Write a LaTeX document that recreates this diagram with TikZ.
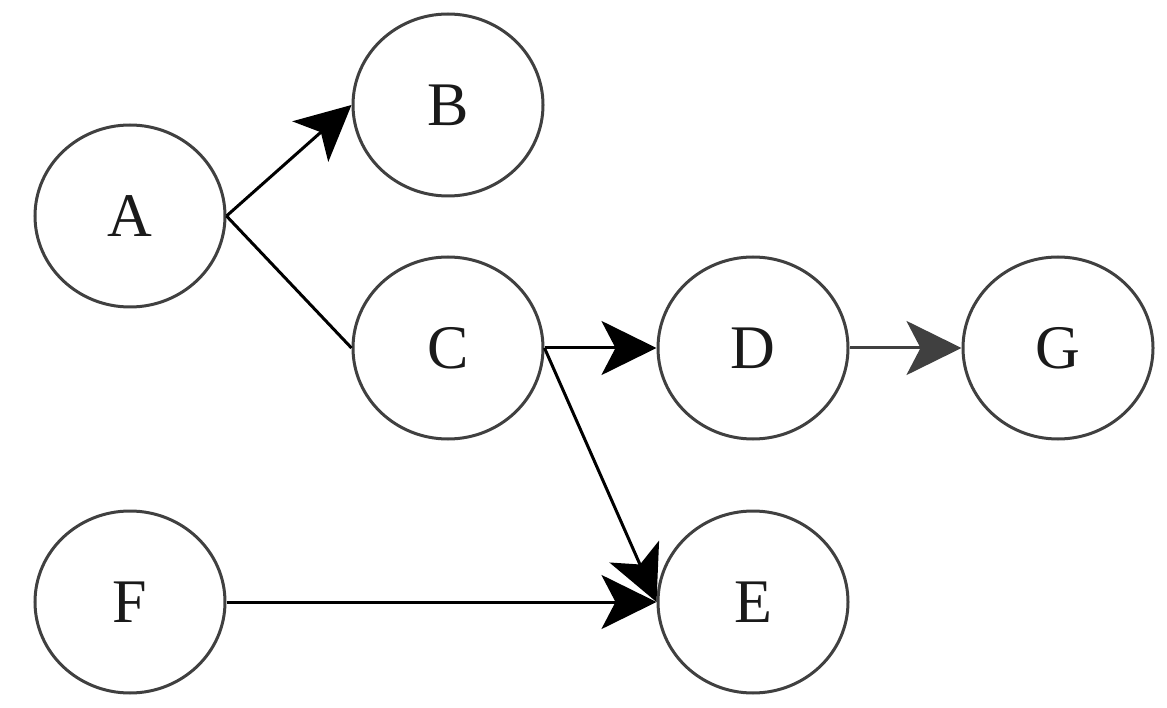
\documentclass[tikz,border=0pt]{standalone}
\usepackage{fontspec}
\setmainfont{Liberation Serif}
\usetikzlibrary{arrows.meta,shapes.geometric}
\definecolor{ringgray}{HTML}{404040}
\definecolor{textblk}{HTML}{1A1A1A}
\tikzset{
  vtx/.style={ellipse, draw=ringgray, line width=3pt, minimum width=190pt, minimum height=182pt, inner sep=0pt, text=textblk, font=\fontsize{62}{70}\selectfont},
  edge/.style={line width=3pt, draw=black},
  arr/.style={edge, -{Stealth[length=55pt, width=54pt, inset=14pt]}},
}
\begin{document}
\begin{tikzpicture}[x=1pt,y=-1pt]
\useasboundingbox (0,0) rectangle (1167,708);
\node[vtx] (A) at (130,216) {A};
\node[vtx] (B) at (448,105) {B};
\node[vtx] (C) at (448,348) {C};
\node[vtx] (D) at (753,348) {D};
\node[vtx] (G) at (1058,348) {G};
\node[vtx] (F) at (130,602) {F};
\node[vtx] (E) at (753,602) {E};
\draw[arr] (A.east) -- (B.west);
\draw[edge] (A.east) -- (C.west);
\draw[arr] (C.east) -- (D.west);
\draw[arr, draw=ringgray, fill=ringgray] (D.east) -- (G.west);
\draw[arr] (C.east) -- (E.west);
\draw[arr] (F.east) -- (E.west);
\end{tikzpicture}
\end{document}
